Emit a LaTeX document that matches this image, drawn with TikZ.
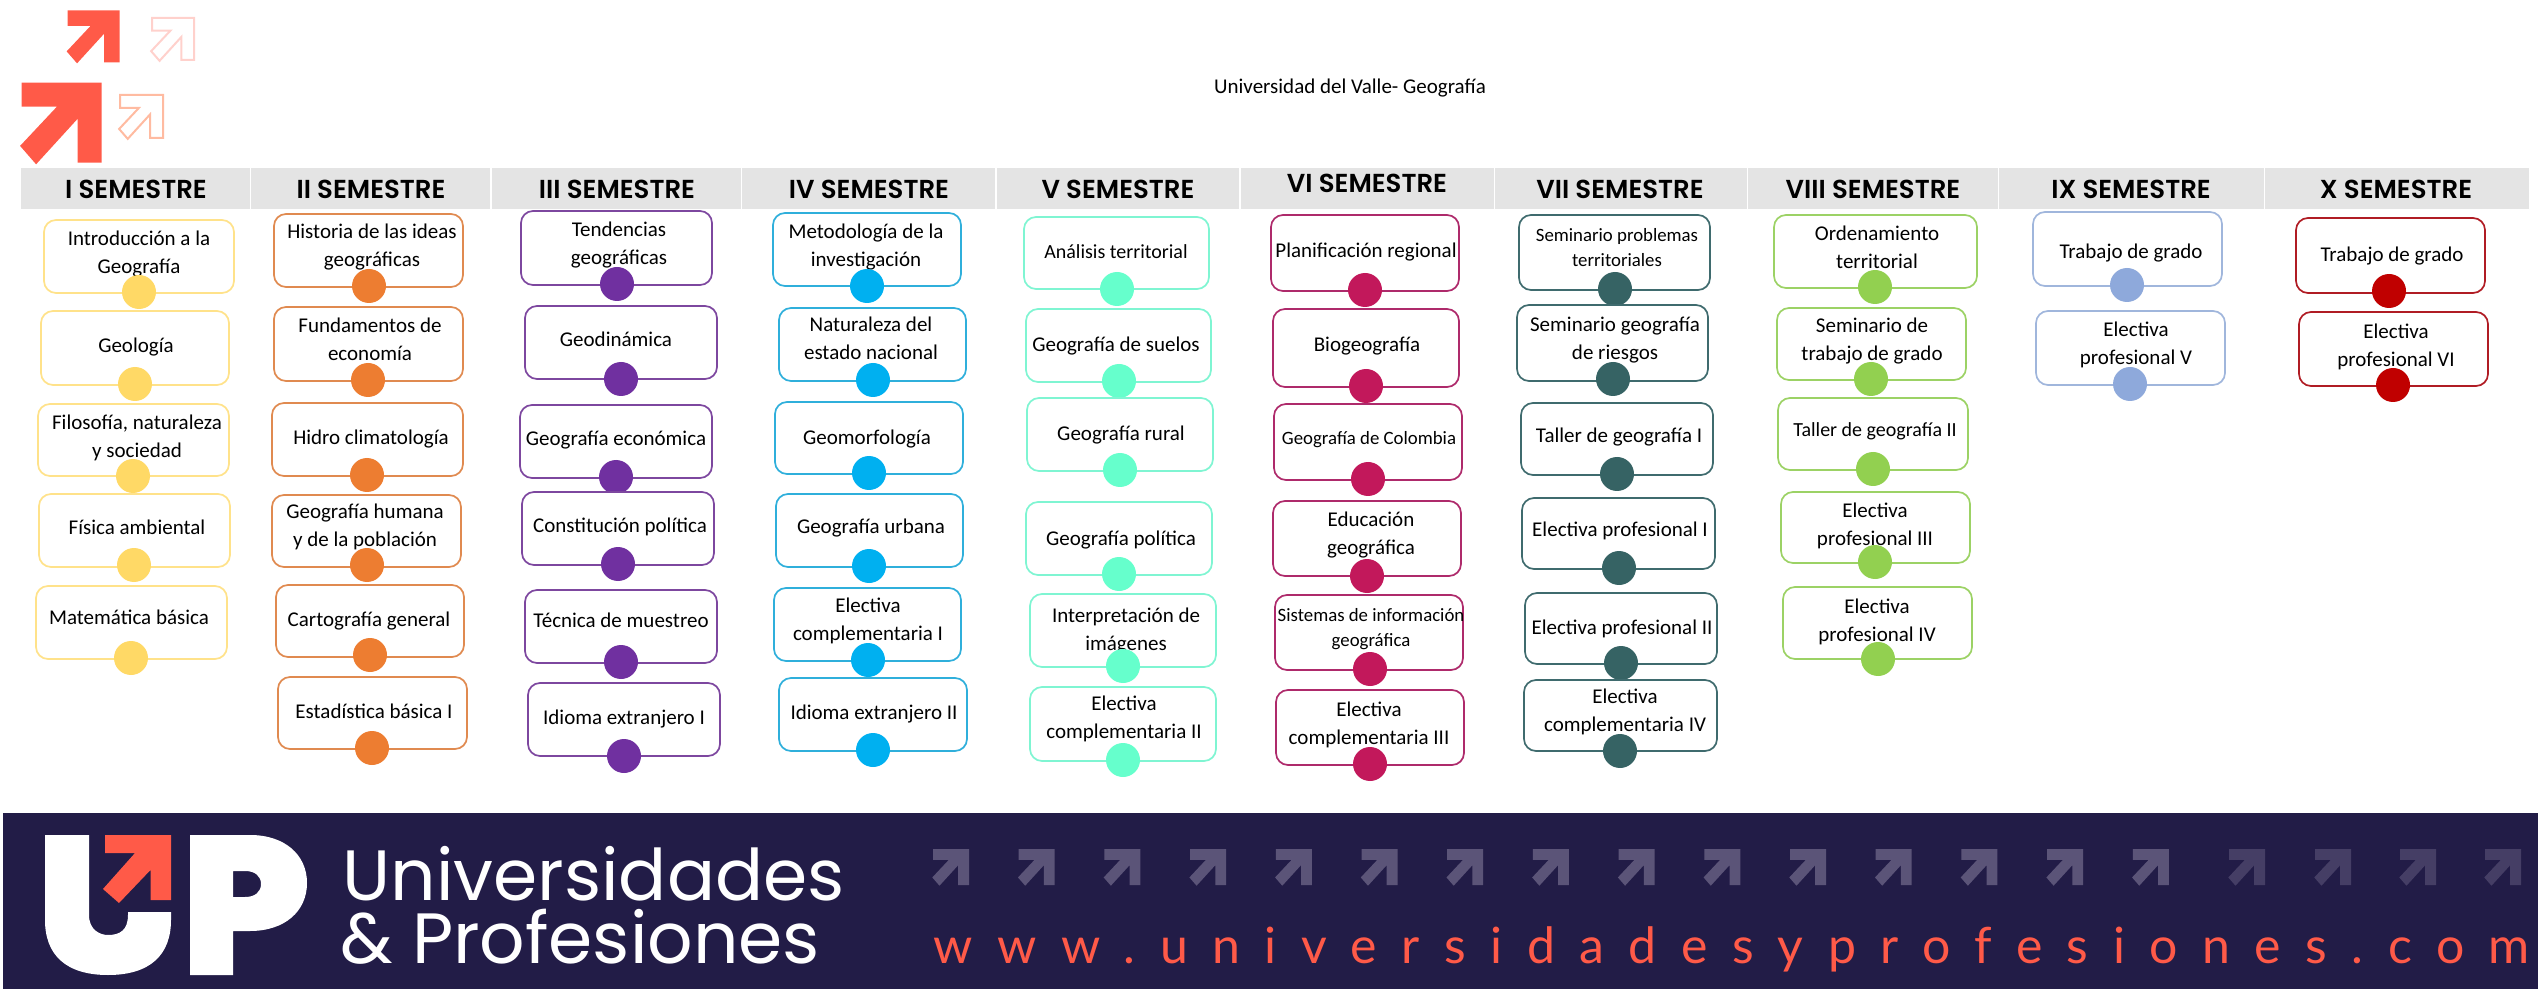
\documentclass[tikz,border=0pt]{standalone}
\usepackage{fontspec}
\setmainfont{Carlito}
\newfontfamily\cabecera{Poppins}[UprightFont=* SemiBold]
\newfontfamily\marca{Poppins}
\newfontfamily\web{Lato}[LetterSpace=49]
\usetikzlibrary{arrows.meta}

\definecolor{coral}{HTML}{FF5A48}
\definecolor{fondo}{HTML}{221C47}
\definecolor{flechaA}{HTML}{5B5478}
\definecolor{flechaB}{HTML}{453E65}
\definecolor{gris}{HTML}{E4E4E4}
\definecolor{bordeI}{HTML}{FFE28A}   \definecolor{puntoI}{HTML}{FFD966}
\definecolor{bordeII}{HTML}{E08A50}  \definecolor{puntoII}{HTML}{ED7D31}
\definecolor{bordeIII}{HTML}{7D479F} \definecolor{puntoIII}{HTML}{7030A0}
\definecolor{bordeIV}{HTML}{2FAFDB}  \definecolor{puntoIV}{HTML}{00B0F0}
\definecolor{bordeV}{HTML}{7FF5D2}   \definecolor{puntoV}{HTML}{66FFCC}
\definecolor{bordeVI}{HTML}{AE2A6B}  \definecolor{puntoVI}{HTML}{C2185B}
\definecolor{bordeVII}{HTML}{3F6B6E} \definecolor{puntoVII}{HTML}{366364}
\definecolor{bordeVIII}{HTML}{9CD265}\definecolor{puntoVIII}{HTML}{92D050}
\definecolor{bordeIX}{HTML}{A0B6DC}  \definecolor{puntoIX}{HTML}{8EA9DB}
\definecolor{bordeX}{HTML}{B01C24}   \definecolor{puntoX}{HTML}{C00000}

\newcommand{\normal}{\fontsize{10.5}{14}\selectfont}
\newcommand{\poca}{\fontsize{10}{12.5}\selectfont}
\newcommand{\chica}{\fontsize{9.4}{12.5}\selectfont}

\tikzset{
  materia/.style={rectangle,rounded corners=6pt,line width=.85pt,fill=white,inner sep=0pt,outer sep=0pt},
  texto/.style={align=center,inner sep=0pt,text=black,yshift=-.8pt},
  punto/.style={circle,inner sep=0pt,minimum size=17pt},
  semestre/.style={font=\cabecera\fontsize{13}{15}\selectfont,inner sep=0pt,text=black},
  celda/.style={fill=gris},
  flecha/.pic={\path[pic actions] (0,0) -- (1,0) -- (1,1) -- (.70,1) -- (.70,.45) -- (.18,1.02) -- (-.02,.79) -- (.44,.30) -- (0,.30) -- cycle;}
}

\newcommand{\columna}[2]{%
  \foreach \n/\xa/\ya/\xb/\yb/\tx/\ty/\ptx/\pty/\letra/\txt in {#2} {
    \node[materia,draw=borde#1,minimum width={(\xb-\xa)*.5pt},minimum height={(\yb-\ya)*.5pt}] (caja#1\n) at ({(\xa+\xb)/2},{(\ya+\yb)/2}) {};
    \node[texto,font=\letra] (texto#1\n) at (\tx,\ty) {\txt};
    \node[punto,fill=punto#1] (punto#1\n) at (\ptx,\pty) {};
  }
}

\begin{document}
\begin{tikzpicture}[x=.5pt,y=-.5pt]
  \useasboundingbox (0,0) rectangle (2538,989);

  \pic[fill=coral,scale=52] at (67.7,10.3) {flecha};
  \pic[draw=coral!28,line width=1pt,scale=42] at (152,18) {flecha};
  \pic[fill=coral,scale=80] at (21.7,82.7) {flecha};
  \pic[draw=orange!35!coral!45,line width=1pt,scale=43] at (120,95) {flecha};

  \node[font=\fontsize{10.5}{12}\selectfont,inner sep=0pt] (titulo) at (1350,88.5) {Universidad del Valle- Geografía};

  \foreach \n/\xa/\xb/\tx/\ty in {I/21/250/136/189,II/251/490/371/189,III/492/741/617/189,IV/742/995/869/189,V/997/1239/1118/189,VI/1241/1494/1367/183,VII/1495/1747/1620/189,VIII/1748/1998/1873/189,IX/1999/2264/2131/189,X/2265/2529/2396/189} {
    \fill[celda] (\xa,168) rectangle (\xb,209);
    \node[semestre] (sem\n) at (\tx,\ty) {\n\ SEMESTRE};
  }

  \columna{I}{
    1/44/220/234/293/139/252/139/292/\normal/{Introducción a la\\Geografía},
    2/41/311/229/385/136/345/135/384/\normal/{Geología},
    3/38/404/229/476/137/436/133/476/\normal/{Filosofía, naturaleza\\y sociedad},
    4/39/494/230/567/137/526/134/565/\normal/{Física ambiental},
    5/36/586/227/659/129/616/131/658/\normal/{Matemática básica}}
  \columna{II}{
    1/274/214/463/287/372/245/369/286/\normal/{Historia de las ideas\\geográficas},
    2/274/307/463/381/370/338/368/380/\normal/{Fundamentos de\\economía},
    3/272/403/463/476/371/437/367/475/\normal/{Hidro climatología},
    4/272/495/461/567/365/525/367/565/\normal/{Geografía humana\\y de la población},
    5/276/585/464/657/369/619/370/655/\normal/{Cartografía general},
    6/278/677/467/749/374/710/372/748/\normal/{Estadística básica I}}
  \columna{III}{
    1/521/211/712/285/619/243/617/284/\normal/{Tendencias\\geográficas},
    2/525/306/717/379/616/338/621/379/\normal/{Geodinámica},
    3/520/405/712/478/616/438/616/477/\normal/{Geografía económica},
    4/522/492/714/565/620/525/618/564/\normal/{Constitución política},
    5/525/590/717/663/621/619/621/662/\normal/{Técnica de muestreo},
    6/528/683/720/756/624/717/624/756/\normal/{Idioma extranjero I}}
  \columna{IV}{
    1/773/213/961/286/866/245/867/286/\normal/{Metodología de la\\investigación},
    2/779/308/966/381/871/337/873/380/\normal/{Naturaleza del\\estado nacional},
    3/775/402/963/474/867/437/869/473/\normal/{Geomorfología},
    4/776/494/963/567/871/526/869/566/\normal/{Geografía urbana},
    5/774/588/961/661/868/619/868/660/\normal/{Electiva\\complementaria I},
    6/779/678/967/751/874/712/873/750/\normal/{Idioma extranjero II}}
  \columna{V}{
    1/1024/217/1209/289/1116/250/1117/289/\poca/{Análisis territorial},
    2/1026/309/1211/382/1116/344/1119/381/\normal/{Geografía de suelos},
    3/1027/398/1213/471/1121/433/1120/470/\normal/{Geografía rural},
    4/1026/502/1212/575/1121/538/1119/574/\normal/{Geografía política},
    5/1030/594/1216/667/1126/629/1123/666/\normal/{Interpretación de\\imágenes},
    6/1030/687/1216/761/1124/717/1123/760/\normal/{Electiva\\complementaria II}}
  \columna{VI}{
    1/1271/215/1459/291/1366/250/1365/290/\normal/{Planificación regional},
    2/1273/309/1459/387/1367/344/1366/386/\normal/{Biogeografía},
    3/1274/404/1462/480/1369/438/1368/479/\chica/{Geografía de Colombia},
    4/1273/501/1461/576/1371/533/1367/576/\normal/{Educación\\geográfica},
    5/1275/595/1463/670/1371/627/1370/669/\chica/{Sistemas de información\\geográfica},
    6/1276/690/1464/765/1369/723/1370/764/\normal/{Electiva\\complementaria III}}
  \columna{VII}{
    1/1519/215/1710/290/1617/246/1615/289/\chica/{Seminario problemas\\territoriales},
    2/1517/305/1708/381/1615/338/1613/379/\normal/{Seminario geografía\\de riesgos},
    3/1521/403/1713/475/1619/435/1617/474/\normal/{Taller de geografía I},
    4/1522/498/1715/569/1620/529/1619/568/\normal/{Electiva profesional I},
    5/1525/593/1717/664/1622/627/1621/663/\normal/{Electiva profesional II},
    6/1524/680/1717/751/1625/710/1620/751/\normal/{Electiva\\complementaria IV}}
  \columna{VIII}{
    1/1774/215/1977/288/1877/246/1875/287/\normal/{Ordenamiento\\territorial},
    2/1777/308/1966/380/1872/339/1871/379/\normal/{Seminario de\\trabajo de grado},
    3/1778/398/1968/470/1875/430/1873/469/\poca/{Taller de geografía II},
    4/1781/492/1970/563/1875/524/1875/562/\normal/{Electiva\\profesional III},
    5/1783/587/1972/659/1877/620/1878/659/\normal/{Electiva\\profesional IV}}
  \columna{IX}{
    1/2033/212/2222/286/2131/251/2127/285/\normal/{Trabajo de grado},
    2/2036/311/2225/385/2136/343/2130/384/\normal/{Electiva\\profesional V}}
  \columna{X}{
    1/2296/218/2485/293/2392/254/2389/291/\normal/{Trabajo de grado},
    2/2299/312/2488/386/2396/345/2393/385/\normal/{Electiva\\profesional VI}}

  \fill[fondo] (3,813) rectangle (2538,989);
  \fill[white] (45,835) -- (89,835) -- (89,915) .. controls (89,930) and (100,935) .. (108,935) .. controls (120,935) and (128,930) .. (128,915) -- (128,912) -- (171,912) -- (171,920) .. controls (171,955) and (150,975) .. (108,975) .. controls (66,975) and (45,955) .. (45,920) -- cycle;
  \fill[coral] (105,835) -- (171,835) -- (171,900) -- (150.5,900) -- (150.5,870) -- (119,903) -- (103,889) -- (135,853) -- (105,853) -- cycle;
  \fill[white,even odd rule] (190,835) -- (250,835) .. controls (285,835) and (307,855) .. (307,883) .. controls (307,911) and (285,931) .. (250,931) -- (233,931) -- (233,975) -- (190,975) -- cycle (233,871) -- (245,871) .. controls (255,871) and (261,876) .. (261,884) .. controls (261,892) and (255,897) .. (245,897) -- (233,897) -- cycle;

  \node[anchor=base west,inner sep=0pt,text=white,font=\marca\fontsize{35.6}{40}\selectfont] (universidades) at (342,900) {Universidades};
  \node[anchor=base west,inner sep=0pt,text=white,font=\marca\fontsize{35.6}{40}\selectfont] (profesiones) at (340,963) {\&\ Profesiones};

  \foreach \i in {0,...,14} {
    \pic[fill=flechaA,scale=36] at ({933+85.7*\i},849) {flecha};
  }
  \foreach \xa in {2229,2315,2400,2485} {
    \pic[fill=flechaB,scale=36] at (\xa,849) {flecha};
  }

  \node[anchor=base west,inner sep=0pt,text=coral,font=\web\fontsize{25}{30}\selectfont] (pagina) at (933,963) {www.universidadesyprofesiones.com};
\end{tikzpicture}
\end{document}
